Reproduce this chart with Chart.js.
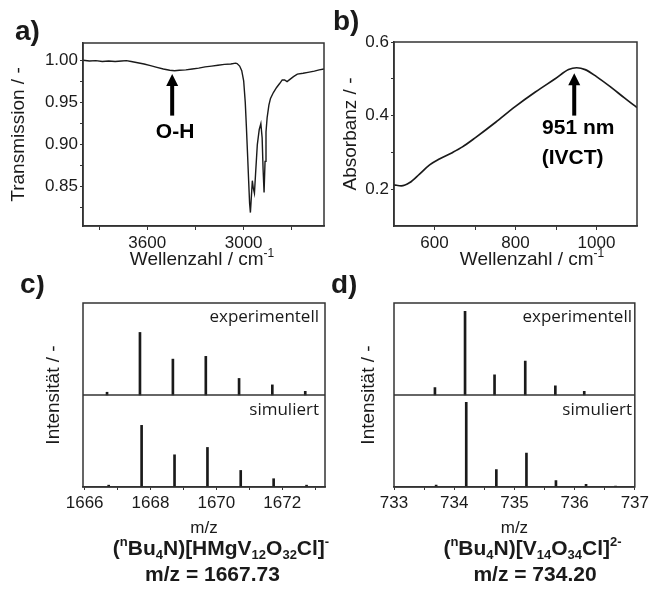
<!DOCTYPE html>
<html>
<head>
<meta charset="utf-8">
<script src="https://cdn.jsdelivr.net/npm/chart.js@4.4.1/dist/chart.umd.min.js"></script>
<style>
  body { margin: 0; background: #fff; }
  #wrap { position: relative; width: 652px; height: 591px; }
  canvas { position: absolute; }
</style>
</head>
<body>
<div id="wrap">
  <canvas id="ca" width="330" height="275" style="left:0px;top:0px"></canvas>
  <canvas id="cb" width="322" height="275" style="left:330px;top:0px"></canvas>
  <canvas id="cc" width="330" height="316" style="left:0px;top:275px"></canvas>
  <canvas id="cd" width="322" height="316" style="left:330px;top:275px"></canvas>
</div>
<script>
// a) IR spectrum
var irWave = [4000, 3960, 3920, 3880, 3840, 3800, 3760, 3730, 3700, 3660, 3620, 3580, 3540, 3500,
  3460, 3430, 3400, 3360, 3320, 3280, 3240, 3200, 3160, 3120, 3080, 3050, 3041, 3025, 3012, 3000,
  2990, 2983, 2975, 2969, 2963, 2958, 2953, 2946, 2940, 2933, 2926, 2915, 2903, 2893, 2885, 2879,
  2873, 2867, 2861, 2854, 2843, 2833, 2815, 2795, 2775, 2760, 2745, 2730, 2710, 2690, 2666, 2630,
  2600, 2560, 2530, 2500];
var irTrans = [1.0005, 0.9995, 1.0, 0.999, 0.9995, 0.999, 0.9995, 1.0, 0.999, 0.9975, 0.996, 0.994, 0.992, 0.990,
  0.9885, 0.988, 0.9885, 0.989, 0.990, 0.991, 0.9925, 0.9935, 0.9945, 0.9955, 0.996, 0.997, 0.9965, 0.9935, 0.988, 0.976,
  0.950, 0.921, 0.885, 0.857, 0.830, 0.819, 0.835, 0.857, 0.848, 0.842, 0.865, 0.900, 0.918, 0.925, 0.908, 0.870,
  0.843, 0.880, 0.915, 0.932, 0.947, 0.955, 0.962, 0.968, 0.973, 0.977, 0.977, 0.975, 0.978, 0.981, 0.984, 0.985,
  0.986, 0.9875, 0.989, 0.990];
var irTicksX = [2700, 3000, 3300, 3600, 3900];
var irLabelsX = [3000, 3600];
var irTicksY = [0.825, 0.85, 0.875, 0.9, 0.925, 0.95, 0.975, 1.0];
var irLabelsY = [0.85, 0.9, 0.95, 1.0];

// b) UV-Vis spectrum
var uvWave = [500, 518, 539, 563, 588, 612, 645, 669, 702, 751, 800, 849, 898, 931, 951, 972, 1000, 1037, 1069, 1100];
var uvAbs = [0.212, 0.209, 0.218, 0.241, 0.266, 0.282, 0.300, 0.315, 0.341, 0.382, 0.425, 0.464, 0.500, 0.525,
  0.530, 0.525, 0.506, 0.476, 0.448, 0.422];
var uvTicksX = [600, 700, 800, 900, 1000];
var uvLabelsX = [600, 800, 1000];
var uvTicksY = [0.2, 0.3, 0.4, 0.5, 0.6];
var uvLabelsY = [0.2, 0.4, 0.6];

// c) mass spectrum 1667.73
var cExpMz = [1666.68, 1667.68, 1668.68, 1669.68, 1670.69, 1671.70, 1672.70];
var cExpInt = [0.03, 0.68, 0.39, 0.42, 0.18, 0.11, 0.04];
var cSimMz = [1666.73, 1667.73, 1668.73, 1669.73, 1670.74, 1671.74, 1672.74];
var cSimInt = [0.02, 0.67, 0.35, 0.43, 0.18, 0.09, 0.02];
var cTicksX = [1666, 1667, 1668, 1669, 1670, 1671, 1672, 1673];
var cLabelsX = [1666, 1668, 1670, 1672];

// d) mass spectrum 734.20
var dExpMz = [733.68, 734.18, 734.67, 735.18, 735.68, 736.16];
var dExpInt = [0.08, 0.91, 0.22, 0.37, 0.10, 0.04];
var dSimMz = [733.70, 734.20, 734.70, 735.20, 735.69, 736.19, 736.68];
var dSimInt = [0.02, 0.92, 0.19, 0.37, 0.07, 0.03, 0.01];
var dTicksX = [733, 733.5, 734, 734.5, 735, 735.5, 736, 736.5, 737];
var dLabelsX = [733, 734, 735, 736, 737];

var FONT = '"Liberation Sans", Arial, sans-serif';
var INK = '#1a1a1a';

Chart.defaults.font.family = FONT;
Chart.defaults.color = INK;
Chart.defaults.animation = false;
Chart.defaults.plugins.legend.display = false;
Chart.defaults.plugins.tooltip.enabled = false;

function hasLabel(list, v) {
  for (var i = 0; i < list.length; i++) {
    if (Math.abs(list[i] - v) < 1e-6) return true;
  }
  return false;
}

// x axis with fixed height and hand-picked ticks
function axisX(min, max, ticks, labels, digits, height, reverse) {
  return {
    type: 'linear', min: min, max: max, reverse: !!reverse, offset: false,
    afterFit: function (s) { s.height = height; },
    afterBuildTicks: function (s) { s.ticks = ticks.map(function (v) { return { value: v }; }); },
    grid: { drawOnChartArea: false, tickLength: 4, tickColor: '#333', offset: false },
    border: { color: '#333', width: 1.5 },
    ticks: {
      font: { size: 17 }, padding: 3, maxRotation: 0, autoSkip: false,
      callback: function (v) { return hasLabel(labels, v) ? v.toFixed(digits) : ''; }
    }
  };
}

function axisY(min, max, ticks, labels, digits, width, title, pad) {
  return {
    type: 'linear', min: min, max: max,
    afterFit: function (s) { s.width = width; },
    afterBuildTicks: function (s) { s.ticks = ticks.map(function (v) { return { value: v }; }); },
    grid: { drawOnChartArea: false, tickLength: 3, tickColor: '#333' },
    border: { color: '#333', width: 1.5 },
    ticks: {
      font: { size: 17 }, padding: 2, autoSkip: false,
      callback: function (v) { return hasLabel(labels, v) ? v.toFixed(digits) : ''; }
    },
    title: { display: true, text: title, font: { size: 19 }, padding: { top: pad, bottom: 0 } }
  };
}

// box around plot area, plus divider line for the stick spectra
var framePlugin = {
  id: 'frame',
  afterDatasetsDraw: function (chart, args, opts) {
    var a = chart.chartArea, ctx = chart.ctx;
    ctx.save();
    ctx.strokeStyle = '#333';
    ctx.lineWidth = 1.5;
    ctx.strokeRect(a.left, a.top, a.right - a.left, a.bottom - a.top);
    if (opts.divider !== undefined) {
      var y = chart.scales.y.getPixelForValue(opts.divider);
      ctx.beginPath();
      ctx.moveTo(a.left, y);
      ctx.lineTo(a.right, y);
      ctx.stroke();
    }
    ctx.restore();
  }
};

// text with _sub_ and ^sup^ markup
function drawRich(ctx, item) {
  var size = item.size;
  var fam = item.family || FONT;
  var wt = item.bold ? 'bold ' : '';
  var parts = item.text.split(/(\^[^\^]*\^|_[^_]*_)/).filter(function (p) { return p.length; });
  var runs = parts.map(function (p) {
    var sub = p[0] === '_', sup = p[0] === '^';
    var t = (sub || sup) ? p.slice(1, -1) : p;
    var s = (sub || sup) ? Math.round(size * 0.62) : size;
    ctx.font = wt + s + 'px ' + fam;
    return { t: t, font: ctx.font, w: ctx.measureText(t).width, dy: sub ? size * 0.2 : (sup ? -size * 0.42 : 0) };
  });
  var total = 0;
  runs.forEach(function (r) { total += r.w; });
  var x = item.align === 'right' ? item.x - total : (item.align === 'left' ? item.x : item.x - total / 2);
  ctx.textAlign = 'left';
  ctx.textBaseline = 'alphabetic';
  ctx.fillStyle = item.color || INK;
  runs.forEach(function (r) {
    ctx.font = r.font;
    ctx.fillText(r.t, x, item.y + r.dy);
    x += r.w;
  });
}

function drawArrow(ctx, x, yTail, yTip) {
  var head = 12, half = 6;
  ctx.strokeStyle = '#000';
  ctx.fillStyle = '#000';
  ctx.lineWidth = 4;
  ctx.beginPath();
  ctx.moveTo(x, yTail);
  ctx.lineTo(x, yTip + head - 1);
  ctx.stroke();
  ctx.beginPath();
  ctx.moveTo(x, yTip);
  ctx.lineTo(x - half, yTip + head);
  ctx.lineTo(x + half, yTip + head);
  ctx.closePath();
  ctx.fill();
}

var notesPlugin = {
  id: 'notes',
  afterDraw: function (chart, args, opts) {
    var ctx = chart.ctx, sx = chart.scales.x, sy = chart.scales.y;
    ctx.save();
    (opts.arrows || []).forEach(function (a) {
      drawArrow(ctx, sx.getPixelForValue(a.x), sy.getPixelForValue(a.from), sy.getPixelForValue(a.to));
    });
    (opts.marks || []).forEach(function (m) {
      ctx.font = 'bold 21px ' + FONT;
      ctx.fillStyle = '#000';
      ctx.textAlign = 'center';
      ctx.textBaseline = 'middle';
      ctx.fillText(m.text, sx.getPixelForValue(m.x), sy.getPixelForValue(m.y));
    });
    (opts.rich || []).forEach(function (r) { drawRich(ctx, r); });
    ctx.restore();
  }
};

function pairs(xs, ys) {
  return xs.map(function (x, i) { return { x: x, y: ys[i] }; });
}
function sticks(xs, hs, base) {
  return xs.map(function (x, i) { return { x: x, y: [base, base + hs[i]] }; });
}

// a)
new Chart(document.getElementById('ca'), {
  type: 'line',
  data: {
    datasets: [{
      data: pairs(irWave, irTrans), borderColor: INK, borderWidth: 1.4,
      pointRadius: 0, tension: 0
    }]
  },
  options: {
    responsive: false,
    layout: { padding: { top: 43, right: 6, left: 0, bottom: 0 } },
    scales: {
      x: axisX(2500, 4000, irTicksX, irLabelsX, 0, 49, true),
      y: axisY(0.803, 1.021, irTicksY, irLabelsY, 2, 83, 'Transmission / -', 7)
    },
    plugins: {
      frame: {},
      notes: {
        arrows: [{ x: 3445, from: 0.9345, to: 0.984 }],
        marks: [{ text: 'O-H', x: 3427, y: 0.9146 }],
        rich: [
          { text: 'a)', x: 15, y: 40, size: 28, bold: true, align: 'left' },
          { text: 'Wellenzahl / cm^-1^', x: 202, y: 265, size: 19 }
        ]
      }
    }
  },
  plugins: [framePlugin, notesPlugin]
});

// b)
new Chart(document.getElementById('cb'), {
  type: 'line',
  data: {
    datasets: [{
      data: pairs(uvWave, uvAbs), borderColor: INK, borderWidth: 1.7,
      pointRadius: 0, cubicInterpolationMode: 'monotone'
    }]
  },
  options: {
    responsive: false,
    layout: { padding: { top: 42, right: 15, left: 0, bottom: 0 } },
    scales: {
      x: axisX(500, 1100, uvTicksX, uvLabelsX, 0, 49, false),
      y: axisY(0.1, 0.6, uvTicksY, uvLabelsY, 1, 64, 'Absorbanz / -', 9.4)
    },
    plugins: {
      frame: {},
      notes: {
        arrows: [{ x: 945, from: 0.40, to: 0.515 }],
        marks: [{ text: '951 nm', x: 955, y: 0.366 }, { text: '(IVCT)', x: 941, y: 0.283 }],
        rich: [
          { text: 'b)', x: 3, y: 30, size: 28, bold: true, align: 'left' },
          { text: 'Wellenzahl / cm^-1^', x: 202, y: 265, size: 19 }
        ]
      }
    }
  },
  plugins: [framePlugin, notesPlugin]
});

function msChart(id, expMz, expInt, simMz, simInt, min, max, ticks, labels, yWidth, yPad, padRight, letter, formula, fx, mzText, mx, textRight) {
  var x = axisX(min, max, ticks, labels, 0, 104, false);
  x.grid.tickLength = 3;
  x.title = { display: true, text: 'm/z', font: { size: 17 }, padding: { top: 0, bottom: 52 } };
  return new Chart(document.getElementById(id), {
    type: 'bar',
    data: {
      datasets: [
        { data: sticks(expMz, expInt, 1), backgroundColor: INK, barThickness: 2, grouped: false },
        { data: sticks(simMz, simInt, 0), backgroundColor: INK, barThickness: 2, grouped: false }
      ]
    },
    options: {
      responsive: false,
      layout: { padding: { top: 28, right: padRight, left: 0, bottom: 0 } },
      scales: {
        x: x,
        y: {
          type: 'linear', min: 0, max: 2,
          afterFit: function (s) { s.width = yWidth; },
          ticks: { display: false },
          grid: { display: false },
          border: { display: false },
          title: { display: true, text: 'Intensität / -', font: { size: 19 }, padding: { top: yPad, bottom: 0 } }
        }
      },
      plugins: {
        frame: { divider: 1 },
        notes: {
          rich: [
            { text: letter, x: letter === 'c)' ? 20 : 1, y: 18, size: 28, bold: true, align: 'left' },
            { text: 'experimentell', x: textRight, y: 47, size: 17, family: '"Open Sans", sans-serif', align: 'right' },
            { text: 'simuliert', x: textRight, y: 140, size: 17, family: '"Open Sans", sans-serif', align: 'right' },
            { text: formula, x: fx, y: 280, size: 21, bold: true },
            { text: mzText, x: mx, y: 306, size: 21, bold: true }
          ]
        }
      }
    },
    plugins: [framePlugin, notesPlugin]
  });
}

// c)
msChart('cc', cExpMz, cExpInt, cSimMz, cSimInt, 1665.95, 1673.3, cTicksX, cLabelsX, 83, 42.8, 5,
  'c)', '(^n^Bu_4_N)[HMgV_12_O_32_Cl]^-^', 221, 'm/z = 1667.73', 212.5, 319);

// d)
msChart('cd', dExpMz, dExpInt, dSimMz, dSimInt, 733, 737, dTicksX, dLabelsX, 64, 27.6, 16,
  'd)', '(^n^Bu_4_N)[V_14_O_34_Cl]^2-^', 202.5, 'm/z = 734.20', 205, 302);
</script>
</body>
</html>
